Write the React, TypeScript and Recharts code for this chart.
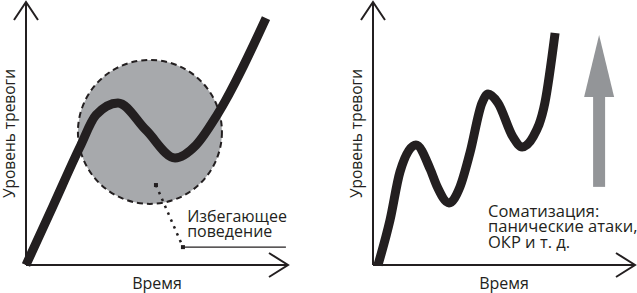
import { LineChart, Line, XAxis, YAxis, ReferenceDot, ReferenceLine } from "recharts";

// left panel: anxiety with avoidance
const leftTime = [0, 10.3, 20.6, 26.7, 35.1, 45.8, 56.9, 64.9, 72.9, 91.6];
const leftAnxiety = [0, 22.4, 44.9, 57.0, 61.6, 51.3, 40.7, 45.6, 57.0, 93.9];

// right panel: somatization
const rightTime = [1.9, 6.5, 10.3, 16.4, 21.8, 24.4, 29.0, 33.2, 37.0, 41.6, 43.9, 47.7, 53.4, 56.9, 61.1, 65.6, 69.5];
const rightAnxiety = [0, 17.1, 35.4, 45.6, 36.5, 30.0, 23.6, 29.7, 42.6, 61.6, 65.0, 61.6, 48.7, 44.9, 48.7, 61.6, 88.2];

const xLabel = "Время";
const yLabel = "Уровень тревоги";
const avoidText = ["Избегающее", "поведение"];
const somaText = ["Соматизация:", "панические атаки,", "ОКР и т. д."];

const leftData = leftTime.map((t, i) => ({ t, v: leftAnxiety[i] }));
const rightData = rightTime.map((t, i) => ({ t, v: rightAnxiety[i] }));

const INK = "#231f20";
const FONT = '"Open Sans", sans-serif';

const ArrowUp = (p: any) => (
  <path d={`M${p.cx - 12} ${p.cy + 18} L${p.cx} ${p.cy} L${p.cx + 12} ${p.cy + 18}`} fill="none" stroke={INK} strokeWidth={2} />
);
const ArrowRight = (p: any) => (
  <path d={`M${p.cx - 19} ${p.cy - 12} L${p.cx} ${p.cy} L${p.cx - 19} ${p.cy + 12}`} fill="none" stroke={INK} strokeWidth={2} />
);
const Square = (p: any) => <rect x={p.cx - 2} y={p.cy - 2} width={4} height={4} fill={INK} />;

const Note = (lines: string[], size: number, gap: number) => (p: any) => (
  <text x={p.cx} y={p.cy} fill={INK} fontSize={size} fontFamily={FONT}>
    {lines.map((l, i) => (
      <tspan key={i} x={p.cx} dy={i === 0 ? 0 : gap}>{l}</tspan>
    ))}
  </text>
);

const BigArrow = (p: any) => (
  <g fill="#939598">
    <polygon points={`${p.cx},${p.cy} ${p.cx - 15},${p.cy + 62} ${p.cx + 15},${p.cy + 62}`} />
    <rect x={p.cx - 6} y={p.cy + 61} width={12} height={91} />
  </g>
);

function Frame({ data, children }: { data: any[]; children?: any }) {
  return (
    <LineChart width={290} height={293} data={data} margin={{ top: 2, right: 2, bottom: 0, left: 0 }}>
      <XAxis
        type="number"
        dataKey="t"
        domain={[0, 100]}
        height={28}
        tick={false}
        tickLine={false}
        axisLine={{ stroke: INK, strokeWidth: 2 }}
        label={{ value: xLabel, position: "insideBottom", offset: 4, fill: INK, fontSize: 16, fontFamily: FONT }}
      />
      <YAxis
        type="number"
        domain={[0, 100]}
        width={26}
        tick={false}
        tickLine={false}
        axisLine={{ stroke: INK, strokeWidth: 2 }}
        label={{ value: yLabel, angle: -90, position: "insideLeft", offset: 9, fill: INK, fontSize: 15.5, fontFamily: FONT, style: { textAnchor: "middle" } }}
      />
      {children}
      <ReferenceDot x={0} y={100} r={1} shape={ArrowUp} />
      <ReferenceDot x={100} y={0} r={1} shape={ArrowRight} />
    </LineChart>
  );
}

export default function App() {
  return (
    <div style={{ position: "absolute", left: 0, top: 0, width: 637, height: 293, background: "#fff", overflow: "hidden" }}>
      <div style={{ position: "absolute", left: 0, top: 0 }}>
        <Frame data={leftData}>
          <ReferenceDot x={47.3} y={50.6} r={72} fill="#a7a9ac" stroke={INK} strokeWidth={2} strokeDasharray="6 4" zIndex={50} />
          <ReferenceLine segment={[{ x: 49.6, y: 30.4 }, { x: 59.9, y: 6.8 }]} stroke={INK} strokeWidth={2.5} strokeDasharray="2.5 5" />
          <ReferenceLine segment={[{ x: 59.9, y: 6.8 }, { x: 99.2, y: 6.8 }]} stroke={INK} strokeWidth={1.2} />
          <ReferenceDot x={49.6} y={30.4} r={1} shape={Square} />
          <ReferenceDot x={59.9} y={6.8} r={1} shape={Square} />
          <ReferenceDot x={61.5} y={16.3} r={1} shape={Note(avoidText, 16, 15)} />
          <Line type="monotone" dataKey="v" stroke={INK} strokeWidth={9} dot={false} activeDot={false} isAnimationActive={false} />
        </Frame>
      </div>
      <div style={{ position: "absolute", left: 347, top: 0 }}>
        <Frame data={rightData}>
          <ReferenceDot x={86.3} y={87.5} r={1} shape={BigArrow} />
          <ReferenceDot x={43.9} y={18.3} r={1} shape={Note(somaText, 16.5, 15.5)} />
          <Line type="monotone" dataKey="v" stroke={INK} strokeWidth={9} dot={false} activeDot={false} isAnimationActive={false} />
        </Frame>
      </div>
    </div>
  );
}
